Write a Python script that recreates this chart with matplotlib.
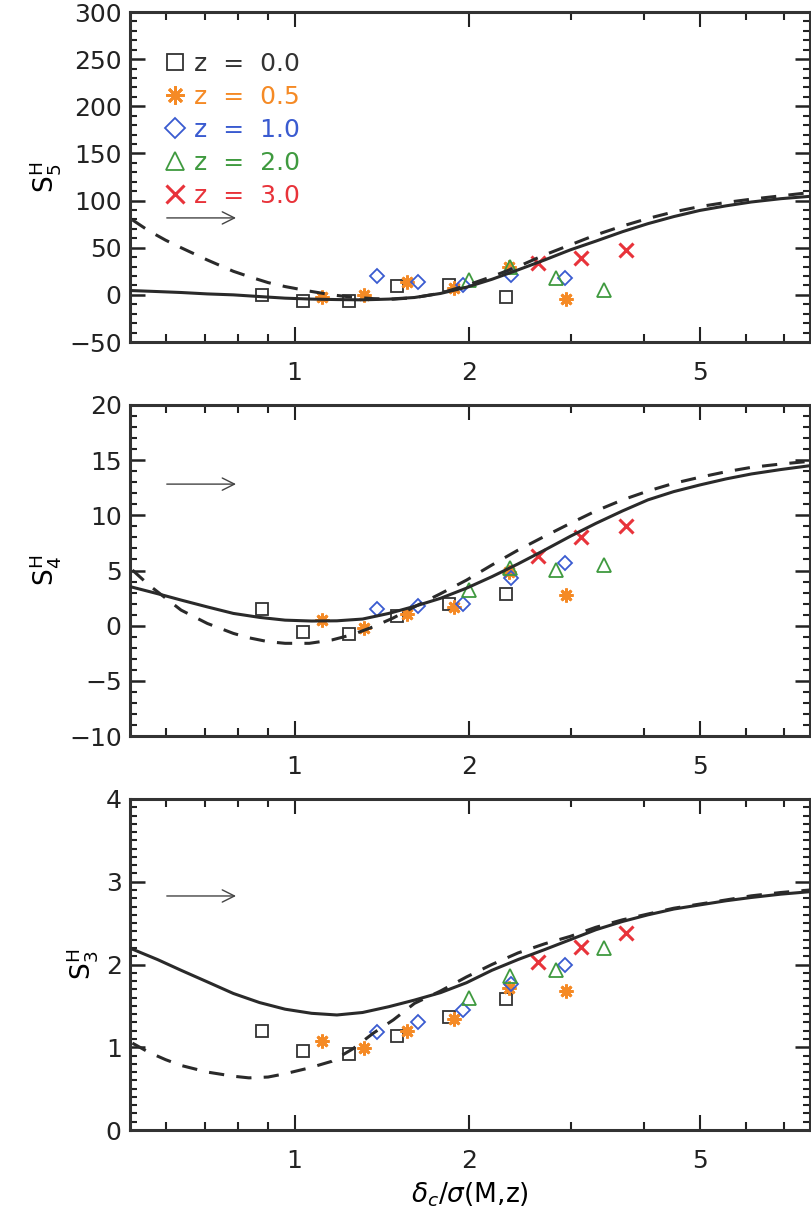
import numpy as np
import matplotlib
matplotlib.use('Agg')
import matplotlib.pyplot as plt
from matplotlib.ticker import FixedLocator, MultipleLocator, NullFormatter

plt.rcParams['font.family'] = ['DejaVu Sans']
plt.rcParams['mathtext.fontset'] = 'dejavusans'

# 标记点数据: 每个红移的 x = delta_c / sigma(M,z)
x_z00 = [0.88, 1.035, 1.24, 1.50, 1.85, 2.32]
x_z05 = [1.115, 1.315, 1.565, 1.885, 2.34, 2.94]
x_z10 = [1.39, 1.635, 1.95, 2.36, 2.93]
x_z20 = [2.0, 2.35, 2.82, 3.42]
x_z30 = [2.63, 3.12, 3.73]

# S5
s5_z00 = [0, -7, -6, 9, 10, -2]
s5_z05 = [-2.5, 0, 13.5, 7, 30, -4.5]
s5_z10 = [19.5, 14, 10, 21, 18]
s5_z20 = [16, 30, 17.7, 5.3]
s5_z30 = [33.6, 39.5, 47.7]

# S4
s4_z00 = [1.5, -0.55, -0.8, 0.87, 2.0, 2.9]
s4_z05 = [0.5, -0.25, 1.05, 1.7, 4.9, 2.8]
s4_z10 = [1.5, 1.8, 2.0, 4.3, 5.7]
s4_z20 = [3.2, 5.2, 5.05, 5.5]
s4_z30 = [6.3, 8.05, 9.0]

# S3
s3_z00 = [1.20, 0.95, 0.92, 1.14, 1.36, 1.58]
s3_z05 = [1.07, 0.99, 1.20, 1.34, 1.71, 1.68]
s3_z10 = [1.19, 1.31, 1.45, 1.76, 2.0]
s3_z20 = [1.60, 1.86, 1.93, 2.20]
s3_z30 = [2.03, 2.21, 2.38]

# 理论曲线
x_solid = [0.521, 0.58, 0.637, 0.707, 0.784, 0.87, 0.963, 1.07, 1.183, 1.31, 1.454, 1.61, 1.786, 1.98,
           2.19, 2.43, 2.70, 2.99, 3.31, 3.68, 4.07, 4.51, 5.0, 5.55, 6.14, 6.9, 7.75]
s5_solid = [4.6, 3.5, 2.5, 1, 0, -1.8, -3.5, -4.5, -5, -5.3, -4.5, -2.8, 1.5, 8.1,
            16.5, 26.5, 37, 47.7, 57, 67, 75.5, 83, 89.5, 94.4, 98.5, 102, 104.5]
s4_solid = [3.53, 2.9, 2.32, 1.7, 1.11, 0.75, 0.5, 0.42, 0.44, 0.6, 1.11, 1.75, 2.48, 3.4,
            4.44, 5.6, 6.85, 8.1, 9.27, 10.4, 11.4, 12.15, 12.75, 13.3, 13.75, 14.15, 14.5]
s3_solid = [2.195, 2.06, 1.93, 1.79, 1.65, 1.54, 1.46, 1.41, 1.39, 1.42, 1.49, 1.57, 1.66, 1.78,
            1.93, 2.06, 2.18, 2.30, 2.42, 2.52, 2.60, 2.67, 2.72, 2.77, 2.81, 2.85, 2.88]

x_dash = [0.525, 0.56, 0.599, 0.637, 0.707, 0.784, 0.834, 0.9, 0.963, 1.06, 1.159, 1.26, 1.367, 1.48,
          1.61, 1.786, 1.98, 2.19, 2.43, 2.70, 2.99, 3.31, 3.68, 4.07, 4.51, 5.0, 5.55, 6.14, 6.9, 7.75]
s5_dash = [79.5, 68, 58, 50, 37, 25, 19.4, 13, 8.8, 4, 0, -2.5, -4, -4.6,
           -3, 1.8, 10, 19.4, 30, 42.4, 53, 63.6, 73, 81, 88, 93.6, 98, 101.5, 105, 108.5]
s4_dash = [5.04, 3.7, 2.5, 1.41, 0.2, -0.70, -1.1, -1.45, -1.6, -1.6, -1.3, -0.8, -0.1, 0.7,
           1.71, 2.9, 4.13, 5.5, 6.85, 8.1, 9.27, 10.4, 11.4, 12.2, 12.9, 13.45, 13.95, 14.35, 14.65, 14.9]
s3_dash = [1.05, 0.94, 0.85, 0.78, 0.70, 0.65, 0.63, 0.64, 0.68, 0.75, 0.83, 0.98, 1.17, 1.33,
           1.53, 1.68, 1.85, 2.00, 2.14, 2.25, 2.34, 2.45, 2.54, 2.61, 2.68, 2.73, 2.78, 2.83, 2.87, 2.90]

colors = ['#333333', '#f58a25', '#3a5bd0', '#3f9a3f', '#e8333a']
labels = ['z  =  0.0', 'z  =  0.5', 'z  =  1.0', 'z  =  2.0', 'z  =  3.0']
xs = [x_z00, x_z05, x_z10, x_z20, x_z30]

panels = [
    {'ys': [s5_z00, s5_z05, s5_z10, s5_z20, s5_z30], 'solid': s5_solid, 'dash': s5_dash,
     'ylim': (-50, 300), 'major': 50, 'minor': 10, 'label': r'$\mathrm{S}^{\mathrm{H}}_{5}$',
     'rect': [130/811, 1 - 342/1214, 680/811, 330/1214], 'arrow_y': 0.376},
    {'ys': [s4_z00, s4_z05, s4_z10, s4_z20, s4_z30], 'solid': s4_solid, 'dash': s4_dash,
     'ylim': (-10, 20), 'major': 5, 'minor': 1, 'label': r'$\mathrm{S}^{\mathrm{H}}_{4}$',
     'rect': [130/811, 1 - 736/1214, 680/811, 331/1214], 'arrow_y': 0.761},
    {'ys': [s3_z00, s3_z05, s3_z10, s3_z20, s3_z30], 'solid': s3_solid, 'dash': s3_dash,
     'ylim': (0, 4), 'major': 1, 'minor': 0.1, 'label': r'$\mathrm{S}^{\mathrm{H}}_{3}$',
     'rect': [130/811, 1 - 1130/1214, 680/811, 331/1214], 'arrow_y': 0.707},
]


def draw_markers(ax, x, y, idx, label=None):
    c = colors[idx]
    if idx == 0:
        return ax.plot(x, y, 's', ms=9, mfc='none', mec=c, mew=1.3, ls='none', label=label)[0]
    if idx == 1:
        return ax.plot(x, y, marker=(8, 2, 0), ms=10, mec=c, mew=2.0, ls='none', label=label)[0]
    if idx == 2:
        return ax.plot(x, y, 'D', ms=7.5, mfc='none', mec=c, mew=1.3, ls='none', label=label)[0]
    if idx == 3:
        return ax.plot(x, y, '^', ms=10, mfc='none', mec=c, mew=1.3, ls='none', label=label)[0]
    return ax.plot(x, y, 'x', ms=10, mec=c, mew=2.2, ls='none', label=label)[0]


fig = plt.figure(figsize=(8.11, 12.14), dpi=100)

for p_i, p in enumerate(panels):
    ax = fig.add_axes(p['rect'])
    ax.set_xscale('log')
    ax.set_xlim(0.52, 7.75)
    ax.set_ylim(*p['ylim'])

    ax.plot(x_solid, p['solid'], '-', color='#2a2a2a', lw=2.2, zorder=3)
    ax.plot(x_dash, p['dash'], '--', color='#2a2a2a', lw=2.2, dashes=(5, 4), zorder=3)

    handles = []
    for i in range(5):
        handles.append(draw_markers(ax, xs[i], p['ys'][i], i, labels[i]))

    # 箭头
    ax.annotate('', xy=(0.16, p['arrow_y']), xytext=(0.05, p['arrow_y']),
                xycoords='axes fraction', textcoords='axes fraction',
                arrowprops=dict(arrowstyle='->', color='#444444', lw=1.0, mutation_scale=22))

    ax.xaxis.set_major_locator(FixedLocator([1, 2, 5]))
    ax.xaxis.set_minor_locator(FixedLocator([0.6, 0.7, 0.8, 0.9, 3, 4, 6, 7]))
    ax.xaxis.set_minor_formatter(NullFormatter())
    ax.set_xticklabels(['1', '2', '5'])
    ax.yaxis.set_major_locator(MultipleLocator(p['major']))
    ax.yaxis.set_minor_locator(MultipleLocator(p['minor']))

    ax.tick_params(which='both', direction='in', top=True, right=True, labelsize=18, colors='#222222')
    ax.tick_params(axis='x', which='major', length=11, width=1.5, pad=14)
    ax.tick_params(axis='x', which='minor', length=6, width=1.5)
    ax.tick_params(axis='y', which='major', length=11, width=1.8, pad=6)
    ax.tick_params(axis='y', which='minor', length=5, width=1.5)
    for s in ax.spines.values():
        s.set_linewidth(2.2)
        s.set_color('#333333')

    ax.set_ylabel(p['label'], fontsize=19, labelpad=4)

    if p_i == 0:
        leg = ax.legend(handles=handles, loc='upper left', bbox_to_anchor=(0.035, 0.91),
                        frameon=False, fontsize=18, handletextpad=0.3, labelspacing=0.36,
                        handlelength=0.9, borderaxespad=0, markerscale=1.3)
        for t, c in zip(leg.get_texts(), colors):
            t.set_color(c)
    if p_i == 2:
        ax.set_xlabel(r'$\delta_c/\sigma$(M,z)', fontsize=19, labelpad=5)

fig.savefig('out.png', dpi=100)
